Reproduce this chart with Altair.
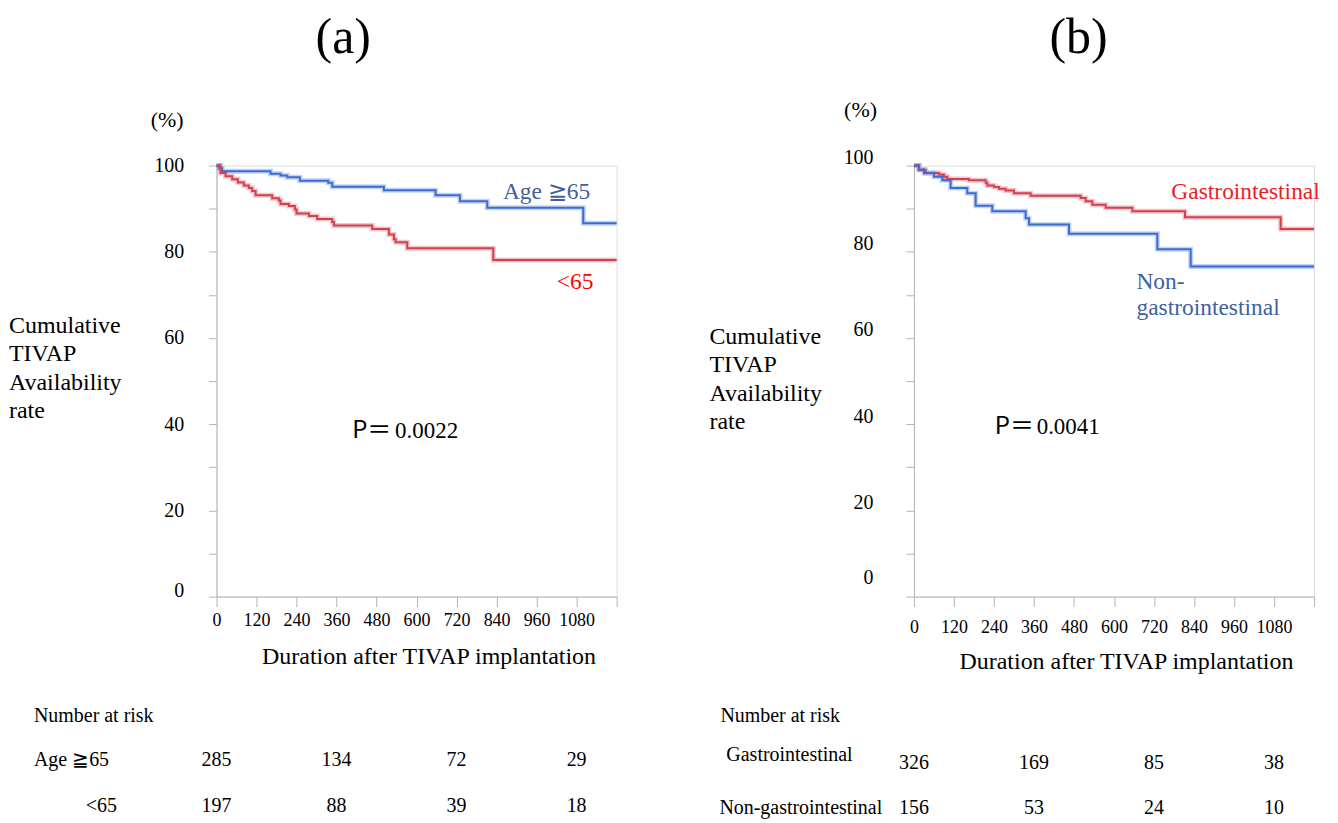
import altair as alt
import pandas as pd

# ---------------- data ----------------
# Panel (a): Age groups (days, survival %)
a_old_t = [0, 8, 17, 162, 192, 212, 250, 335, 347, 502, 657, 730, 812, 1100, 1200]
a_old_s = [100, 99.4, 98.7, 98.1, 97.7, 97.3, 96.5, 96.0, 95.1, 94.3, 93.1, 91.7, 90.2, 86.6, 86.6]
a_young_t = [0, 12, 27, 47, 64, 82, 97, 107, 117, 167, 187, 192, 217, 235, 240, 277, 302,
             347, 352, 467, 517, 532, 537, 572, 830, 1200]
a_young_s = [100, 98.3, 97.5, 96.8, 96.1, 95.4, 94.8, 94.1, 93.1, 92.4, 91.9, 91.1, 90.6, 89.8,
             88.9, 88.3, 87.6, 86.9, 86.1, 85.3, 84.0, 82.9, 82.2, 80.8, 78.1, 78.1]

# Panel (b): Gastrointestinal vs non-gastrointestinal
b_gi_t = [0, 15, 35, 75, 90, 100, 165, 215, 220, 240, 255, 275, 300, 350, 500, 515, 535, 575,
          655, 813, 1100, 1200]
b_gi_s = [100, 99.0, 98.3, 97.9, 97.4, 96.9, 96.6, 96.0, 95.4, 95.0, 94.6, 94.2, 93.6, 93.0,
          92.5, 91.7, 90.9, 90.2, 89.4, 88.0, 85.3, 85.3]
b_ngi_t = [0, 15, 30, 60, 85, 110, 160, 185, 235, 335, 345, 465, 730, 830, 1200]
b_ngi_s = [100, 99.1, 98.3, 97.4, 96.6, 94.8, 93.6, 90.7, 89.4, 87.8, 86.3, 84.2, 80.6, 76.6, 76.6]

risk_times = [0, 360, 720, 1080]
a_risk_old = [285, 134, 72, 29]
a_risk_young = [197, 88, 39, 18]
b_risk_gi = [326, 169, 85, 38]
b_risk_ngi = [156, 53, 24, 10]

x_ticks = list(range(0, 1201, 60))
y_ticks = list(range(0, 101, 10))

SERIF = "'Times New Roman', 'Liberation Serif', serif"
SANS = "'Noto Sans CJK JP', 'Noto Sans', sans-serif"
BLUE_LINE = "#3a6cd8"
RED_LINE = "#d4404e"
BLUE_TXT = "#3f5f9f"
RED_TXT = "#ee1c25"

W, H = 401, 432


def km_frame(groups):
    rows = []
    for name, ts, ss in groups:
        for t, s in zip(ts, ss):
            rows.append({"group": name, "t": t, "s": s})
    return pd.DataFrame(rows)


def label(text, x, y, size=23.5, color="black", align="left", font=SERIF, baseline="middle"):
    return alt.Chart(alt.Data(values=[{}])).mark_text(
        text=text, align=align, baseline=baseline, fontSize=size, font=font, color=color
    ).encode(x=alt.value(x), y=alt.value(y))


def risk_row(times, counts, y):
    df = pd.DataFrame({"t": times, "n": [str(c) for c in counts]})
    return alt.Chart(df).mark_text(fontSize=20, font=SERIF, color="black", baseline="middle").encode(
        x=alt.X("t:Q", scale=alt.Scale(domain=[0, 1200], nice=False)),
        y=alt.value(y),
        text="n:N",
    )


def km_panel(df, domain, colors, xpad, ypad, yoffset):
    xenc = alt.X(
        "t:Q",
        scale=alt.Scale(domain=[0, 1200], nice=False),
        axis=alt.Axis(
            values=x_ticks,
            format="d",
            labelExpr="(datum.value % 120 === 0 && datum.value <= 1080) ? datum.label : ''",
            title=None,
            grid=False,
            domainColor="#b4b4b4",
            tickColor="#b4b4b4",
            tickSize=alt.condition("datum.value % 120 === 0", alt.value(10), alt.value(5)),
            labelFont=SERIF,
            labelFontSize=18,
            labelColor="black",
            labelPadding=xpad,
            labelFlush=False,
        ),
    )
    yenc = alt.Y(
        "s:Q",
        scale=alt.Scale(domain=[0, 100], nice=False),
        axis=alt.Axis(
            values=y_ticks,
            labelExpr="datum.value % 20 === 0 ? datum.label : ''",
            title=None,
            grid=False,
            domainColor="#b4b4b4",
            tickColor="#b4b4b4",
            tickSize=8,
            labelFont=SERIF,
            labelFontSize=20,
            labelColor="black",
            labelPadding=ypad,
            labelOffset=yoffset,
        ),
    )
    color = alt.Color("group:N", scale=alt.Scale(domain=domain, range=colors), legend=None)
    base = alt.Chart(df).encode(x=xenc, y=yenc, color=color, detail="group:N")
    glow = base.mark_line(interpolate="step-after", strokeWidth=5, opacity=0.3)
    line = base.mark_line(interpolate="step-after", strokeWidth=2)
    return glow + line


# ---------------- panel (a) ----------------
df_a = km_frame([("Age ≧65", a_old_t, a_old_s), ("<65", a_young_t, a_young_s)])
panel_a = alt.layer(
    km_panel(df_a, ["Age ≧65", "<65"], [BLUE_LINE, RED_LINE], 5, 25,
             alt.condition("datum.value === 0", alt.value(-6), alt.value(0))),
    label("(a)", 127, -128, size=50, align="center"),
    label("(%)", -66, -46, size=22),
    label("Cumulative", -208, 161, size=24),
    label("TIVAP", -208, 189, size=24),
    label("Availability", -208, 218, size=24),
    label("rate", -208, 246, size=24),
    label("Age ≧65", 287, 27, color=BLUE_TXT),
    label("<65", 341, 117, color="#ff0000"),
    label("P＝", 136, 266, size=24, font=SANS),
    label("0.0022", 179, 266, size=23),
    label("Duration after TIVAP implantation", 213, 493, size=24, align="center"),
    label("Number at risk", -183, 552, size=20),
    label("Age ≧65", -183, 596, size=20),
    label("<65", -131, 642, size=20),
    risk_row(risk_times, a_risk_old, 596),
    risk_row(risk_times, a_risk_young, 642),
).properties(width=W, height=H)

# ---------------- panel (b) ----------------
df_b = km_frame([("Gastrointestinal", b_gi_t, b_gi_s), ("Non-gastrointestinal", b_ngi_t, b_ngi_s)])
panel_b = alt.layer(
    km_panel(df_b, ["Gastrointestinal", "Non-gastrointestinal"], [RED_LINE, BLUE_LINE], 12, 33,
             alt.condition("datum.value === 0", alt.value(-19), alt.value(-8))),
    label("(b)", 165, -128, size=50, align="center"),
    label("(%)", -70, -56, size=22),
    label("Cumulative", -205, 172, size=24),
    label("TIVAP", -205, 200, size=24),
    label("Availability", -205, 229, size=24),
    label("rate", -205, 257, size=24),
    label("Gastrointestinal", 258, 27, color=RED_TXT),
    label("Non-", 223, 117, color=BLUE_TXT),
    label("gastrointestinal", 223, 143, color=BLUE_TXT),
    label("P＝", 81, 262, size=24, font=SANS),
    label("0.0041", 123, 262, size=23),
    label("Duration after TIVAP implantation", 213, 498, size=24, align="center"),
    label("Number at risk", -194, 552, size=20),
    label("Gastrointestinal", -188, 591, size=20),
    label("Non-gastrointestinal", -195, 644, size=20),
    risk_row(risk_times, b_risk_gi, 599),
    risk_row(risk_times, b_risk_ngi, 644),
).properties(width=W, height=H)

chart = alt.hconcat(panel_a, panel_b, spacing=298, bounds="flush").resolve_scale(
    color="independent"
).configure_view(
    stroke="#c4c4c4", strokeWidth=1
).configure(padding={"left": 0, "top": 3, "right": 5, "bottom": 5}, background="white")

chart.save("out.html", embed_options={"renderer": "svg", "actions": False})
